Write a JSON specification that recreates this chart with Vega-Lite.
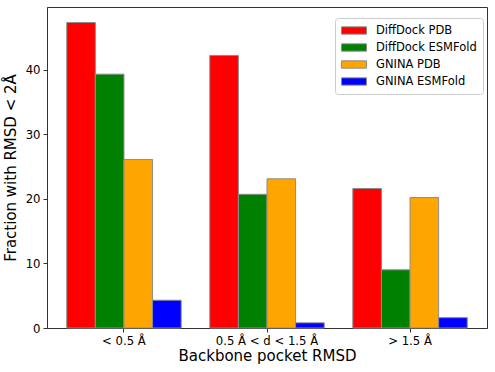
{
  "$schema": "https://vega.github.io/schema/vega-lite/v6.json",
  "width": 440,
  "height": 321,
  "autosize": "none",
  "padding": {"left": 47, "top": 7, "right": 8, "bottom": 44},
  "background": "white",
  "config": {
    "font": "DejaVu Sans",
    "view": {"stroke": "#333", "strokeWidth": 1},
    "axis": {"grid": false, "domainColor": "#333", "tickColor": "#333", "labelColor": "black", "titleColor": "black", "labelFont": "DejaVu Sans", "titleFont": "DejaVu Sans", "titleFontWeight": "normal", "labelFontSize": 11.7, "titleFontSize": 15, "tickSize": 4, "labelPadding": 3}
  },
  "data": {
    "values": [
      {"group": "< 0.5 Å", "method": "DiffDock PDB", "value": 47.3},
      {"group": "< 0.5 Å", "method": "DiffDock ESMFold", "value": 39.3},
      {"group": "< 0.5 Å", "method": "GNINA PDB", "value": 26.1},
      {"group": "< 0.5 Å", "method": "GNINA ESMFold", "value": 4.3},
      {"group": "0.5 Å < d < 1.5 Å", "method": "DiffDock PDB", "value": 42.2},
      {"group": "0.5 Å < d < 1.5 Å", "method": "DiffDock ESMFold", "value": 20.7},
      {"group": "0.5 Å < d < 1.5 Å", "method": "GNINA PDB", "value": 23.1},
      {"group": "0.5 Å < d < 1.5 Å", "method": "GNINA ESMFold", "value": 0.8},
      {"group": "> 1.5 Å", "method": "DiffDock PDB", "value": 21.6},
      {"group": "> 1.5 Å", "method": "DiffDock ESMFold", "value": 9.0},
      {"group": "> 1.5 Å", "method": "GNINA PDB", "value": 20.2},
      {"group": "> 1.5 Å", "method": "GNINA ESMFold", "value": 1.6}
    ]
  },
  "mark": {"type": "bar", "stroke": "#8c8c8c", "strokeWidth": 1},
  "encoding": {
    "x": {
      "field": "group", "type": "nominal",
      "sort": ["< 0.5 Å", "0.5 Å < d < 1.5 Å", "> 1.5 Å"],
      "scale": {"paddingInner": 0.2, "paddingOuter": 0.138},
      "axis": {"title": "Backbone pocket RMSD", "labelAngle": 0, "titlePadding": 2}
    },
    "xOffset": {
      "field": "method", "type": "nominal",
      "sort": ["DiffDock PDB", "DiffDock ESMFold", "GNINA PDB", "GNINA ESMFold"]
    },
    "y": {
      "field": "value", "type": "quantitative",
      "scale": {"domain": [0, 49.7], "nice": false, "zero": true},
      "axis": {"title": "Fraction with RMSD < 2Å", "values": [0, 10, 20, 30, 40], "titlePadding": 7}
    },
    "color": {
      "field": "method", "type": "nominal",
      "sort": ["DiffDock PDB", "DiffDock ESMFold", "GNINA PDB", "GNINA ESMFold"],
      "scale": {"domain": ["DiffDock PDB", "DiffDock ESMFold", "GNINA PDB", "GNINA ESMFold"], "range": ["#ff0000", "#008000", "#ffa500", "#0000ff"]},
      "legend": {
        "title": null,
        "orient": "none",
        "legendX": 288,
        "legendY": 11,
        "padding": 6,
        "strokeColor": "#cccccc",
        "fillColor": "white",
        "cornerRadius": 3,
        "symbolType": "M-1,-0.61L3.17,-0.61L3.17,0.61L-1,0.61Z",
        "symbolSize": 144,
        "symbolStrokeColor": "#8c8c8c",
        "symbolStrokeWidth": 1,
        "symbolOpacity": 1,
        "labelFontSize": 11.5,
        "labelFont": "DejaVu Sans",
        "labelColor": "black",
        "rowPadding": 4,
        "labelOffset": 22
      }
    }
  }
}
